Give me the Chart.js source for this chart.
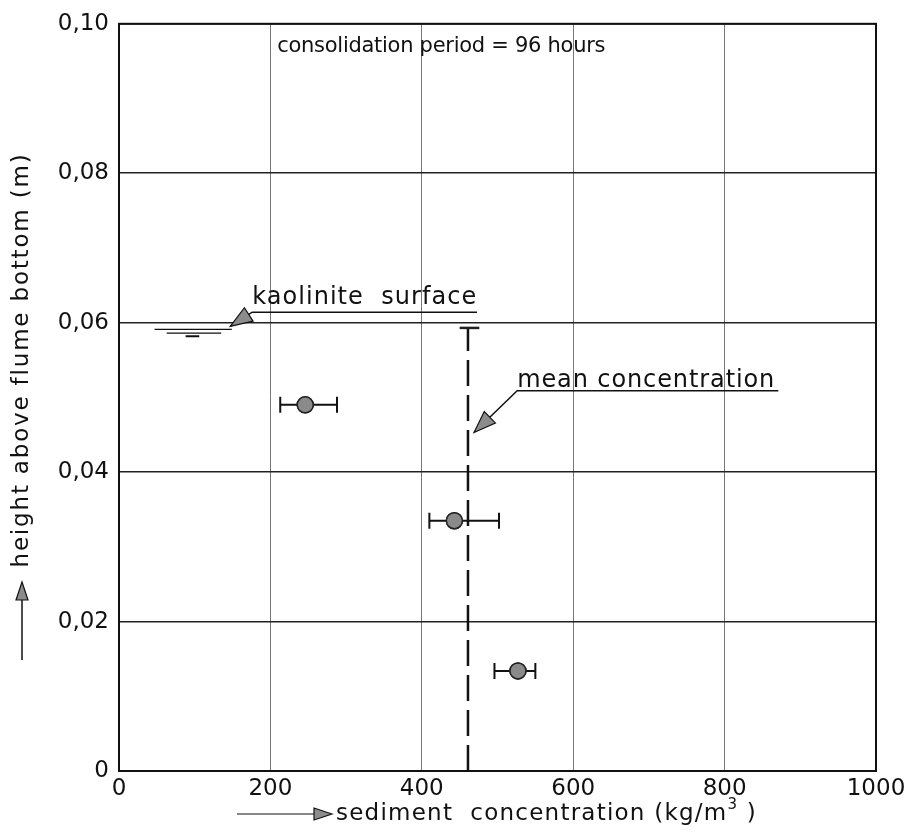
<!DOCTYPE html>
<html>
<head>
<meta charset="utf-8">
<script src="https://cdn.jsdelivr.net/npm/chart.js@4.4.1/dist/chart.umd.min.js"></script>
<style>
  html, body { margin: 0; padding: 0; background: #fff; }
  #wrap { width: 924px; height: 837px; position: relative; }
</style>
</head>
<body>
<div id="wrap"><canvas id="c" width="924" height="837"></canvas></div>
<script>
// ---- data ----
const xTickValues = [0, 200, 400, 600, 800, 1000];
const yTickValues = [0, 0.02, 0.04, 0.06, 0.08, 0.10];
const yTickLabels = ['0', '0,02', '0,04', '0,06', '0,08', '0,10'];

const pointConc   = [246, 443, 527];        // kg/m3
const pointHeight = [0.0490, 0.0335, 0.0134]; // m
const errLow      = [213, 410, 496];
const errHigh     = [288, 502, 550];

const meanConc   = 461;
const meanTop    = 0.0593;
const meanCapLow = 450;
const meanCapHigh = 476;

const surfaceY      = [0.0591, 0.0586, 0.0582];
const surfaceXStart = [47, 63, 88];
const surfaceXEnd   = [149, 135, 106];

const titleText = 'consolidation period = 96 hours';
const kaoText = 'kaolinite  surface';
const meanText = 'mean concentration';
const yTitle = 'height above flume bottom (m)';
const xTitleMain = 'sediment  concentration (kg/m';
const xTitleSup = '3';
const xTitleEnd = ' )';

// ---- build datasets ----
const FONT = '"DejaVu Sans", sans-serif';
const datasets = [];
datasets.push({
  type: 'line',
  label: 'mean',
  data: [{x: meanConc, y: 0}, {x: meanConc, y: meanTop}],
  borderColor: '#111', borderWidth: 2.5, borderDash: [26, 9],
  pointRadius: 0, showLine: true, fill: false, order: 3
});
for (let i = 0; i < surfaceY.length; i++) {
  datasets.push({
    type: 'line',
    label: 'surface' + i,
    data: [{x: surfaceXStart[i], y: surfaceY[i]}, {x: surfaceXEnd[i], y: surfaceY[i]}],
    borderColor: '#111', borderWidth: i === 2 ? 2 : 1.4,
    pointRadius: 0, showLine: true, fill: false, order: 3
  });
}
datasets.push({
  type: 'scatter',
  label: 'measured',
  data: pointConc.map((x, i) => ({x: x, y: pointHeight[i], lo: errLow[i], hi: errHigh[i]})),
  pointRadius: 8, pointHoverRadius: 8,
  backgroundColor: '#8a8a8a', borderColor: '#222', borderWidth: 1.5, order: 1
});

function arrowHead(ctx, fromX, fromY, tipX, tipY, len, half) {
  const a = Math.atan2(tipY - fromY, tipX - fromX);
  const bx = tipX - len * Math.cos(a), by = tipY - len * Math.sin(a);
  ctx.beginPath();
  ctx.moveTo(tipX, tipY);
  ctx.lineTo(bx + half * Math.sin(a), by - half * Math.cos(a));
  ctx.lineTo(bx - half * Math.sin(a), by + half * Math.cos(a));
  ctx.closePath();
  ctx.fillStyle = '#8c8c8c';
  ctx.fill();
  ctx.strokeStyle = '#111';
  ctx.lineWidth = 1.2;
  ctx.stroke();
}

function fitText(ctx, text, x, y, target, size, align) {
  ctx.font = size + 'px ' + FONT;
  ctx.letterSpacing = '0px';
  const w = ctx.measureText(text).width;
  const ls = (target - w) / text.length;
  ctx.letterSpacing = ls + 'px';
  ctx.textAlign = align || 'left';
  ctx.fillText(text, x, y);
  ctx.letterSpacing = '0px';
}

const errorBars = {
  id: 'errorBars',
  afterDatasetsDraw(chart) {
    const ctx = chart.ctx, xs = chart.scales.x, ys = chart.scales.y;
    ctx.save();
    ctx.strokeStyle = '#111';
    ctx.lineWidth = 2;
    const ds = chart.data.datasets.find(d => d.label === 'measured');
    ds.data.forEach(p => {
      const y = ys.getPixelForValue(p.y);
      const x1 = xs.getPixelForValue(p.lo), x2 = xs.getPixelForValue(p.hi);
      ctx.beginPath();
      ctx.moveTo(x1, y); ctx.lineTo(x2, y);
      ctx.moveTo(x1, y - 8); ctx.lineTo(x1, y + 8);
      ctx.moveTo(x2, y - 8); ctx.lineTo(x2, y + 8);
      ctx.stroke();
    });
    ds.data.forEach(p => {
      const x = xs.getPixelForValue(p.x), y = ys.getPixelForValue(p.y);
      ctx.beginPath();
      ctx.arc(x, y, 8, 0, Math.PI * 2);
      ctx.fillStyle = '#8a8a8a';
      ctx.fill();
      ctx.lineWidth = 1.5;
      ctx.strokeStyle = '#222';
      ctx.stroke();
    });
    ctx.lineWidth = 2.5;
    ctx.beginPath();
    const ty = ys.getPixelForValue(meanTop);
    ctx.moveTo(xs.getPixelForValue(meanCapLow), ty);
    ctx.lineTo(xs.getPixelForValue(meanCapHigh), ty);
    ctx.stroke();
    ctx.restore();
  }
};

const annotations = {
  id: 'annotations',
  afterDraw(chart) {
    const ctx = chart.ctx, xs = chart.scales.x, ys = chart.scales.y, a = chart.chartArea;
    ctx.save();
    ctx.strokeStyle = '#111';
    ctx.lineWidth = 2;
    ctx.strokeRect(a.left, a.top, a.right - a.left, a.bottom - a.top);

    ctx.fillStyle = '#111';
    ctx.textBaseline = 'middle';
    fitText(ctx, titleText, xs.getPixelForValue(209), ys.getPixelForValue(0.0970), 328, 21, 'left');

    const kx = xs.getPixelForValue(176), ky = ys.getPixelForValue(0.0634);
    ctx.fillStyle = '#111';
    fitText(ctx, kaoText, kx, ky, 225, 24, 'left');
    const uy = ys.getPixelForValue(0.0614);
    ctx.strokeStyle = '#111'; ctx.lineWidth = 1.5;
    ctx.beginPath();
    ctx.moveTo(xs.getPixelForValue(473), uy);
    ctx.lineTo(kx, uy);
    const ktx = xs.getPixelForValue(147), kty = ys.getPixelForValue(0.0595);
    ctx.lineTo(ktx, kty);
    ctx.stroke();
    arrowHead(ctx, kx, uy, ktx, kty, 22, 8);

    const mx = xs.getPixelForValue(526), my = ys.getPixelForValue(0.0522);
    ctx.fillStyle = '#111';
    fitText(ctx, meanText, mx, my, 258, 24, 'left');
    const muy = ys.getPixelForValue(0.0509);
    ctx.strokeStyle = '#111'; ctx.lineWidth = 1.5;
    ctx.beginPath();
    ctx.moveTo(xs.getPixelForValue(871), muy);
    ctx.lineTo(mx, muy);
    const mtx = xs.getPixelForValue(469), mty = ys.getPixelForValue(0.0453);
    ctx.lineTo(mtx, mty);
    ctx.stroke();
    arrowHead(ctx, mx, muy, mtx, mty, 22, 8);

    ctx.fillStyle = '#111';
    ctx.save();
    ctx.translate(22, 360);
    ctx.rotate(-Math.PI / 2);
    fitText(ctx, yTitle, 0, 0, 415, 23, 'center');
    ctx.restore();
    ctx.strokeStyle = '#111'; ctx.lineWidth = 1.5;
    ctx.beginPath(); ctx.moveTo(22, 660); ctx.lineTo(22, 598); ctx.stroke();
    arrowHead(ctx, 22, 660, 22, 582, 18, 6);

    const xy = 814;
    ctx.beginPath(); ctx.moveTo(237, xy); ctx.lineTo(316, xy); ctx.stroke();
    arrowHead(ctx, 237, xy, 332, xy, 18, 6);
    ctx.fillStyle = '#111';
    ctx.textAlign = 'left';
    ctx.letterSpacing = '0px';
    ctx.font = '23px ' + FONT;
    const w1 = ctx.measureText(xTitleMain).width + ctx.measureText(xTitleEnd).width;
    ctx.font = '15px ' + FONT;
    const w2 = ctx.measureText(xTitleSup).width;
    const n = xTitleMain.length + xTitleSup.length + xTitleEnd.length;
    const ls = (757 - 336 - w1 - w2) / n;
    ctx.letterSpacing = ls + 'px';
    let cx = 336;
    ctx.font = '23px ' + FONT;
    ctx.fillText(xTitleMain, cx, xy);
    cx += ctx.measureText(xTitleMain).width;
    ctx.font = '15px ' + FONT;
    ctx.fillText(xTitleSup, cx, xy - 9);
    cx += ctx.measureText(xTitleSup).width;
    ctx.font = '23px ' + FONT;
    ctx.fillText(xTitleEnd, cx, xy);
    ctx.letterSpacing = '0px';
    ctx.restore();
  }
};

new Chart(document.getElementById('c'), {
  data: { datasets: datasets },
  options: {
    responsive: false,
    animation: false,
    events: [],
    layout: { padding: { left: 0, top: 22, right: 48, bottom: 0 } },
    plugins: { legend: { display: false }, tooltip: { enabled: false }, title: { display: false } },
    scales: {
      x: {
        type: 'linear', min: 0, max: 1000,
        afterBuildTicks: s => { s.ticks = xTickValues.map(v => ({value: v})); },
        ticks: { color: '#111', font: { family: FONT, size: 23 }, padding: 4,
                 callback: v => String(v) },
        grid: { color: '#777', lineWidth: 1, drawTicks: false },
        border: { color: '#111', width: 2 },
        afterFit: s => { s.height = 66; }
      },
      y: {
        type: 'linear', min: 0, max: 0.1,
        afterBuildTicks: s => { s.ticks = yTickValues.map(v => ({value: v})); },
        ticks: { color: '#111', font: { family: FONT, size: 23 }, padding: 10,
                 callback: (v) => { const i = yTickValues.findIndex(t => Math.abs(t - v) < 1e-9); return i >= 0 ? yTickLabels[i] : ''; } },
        grid: { color: '#222', lineWidth: 1.5, drawTicks: false },
        border: { color: '#111', width: 2 },
        afterFit: s => { s.width = 119; }
      }
    }
  },
  plugins: [errorBars, annotations]
});
</script>
</body>
</html>
